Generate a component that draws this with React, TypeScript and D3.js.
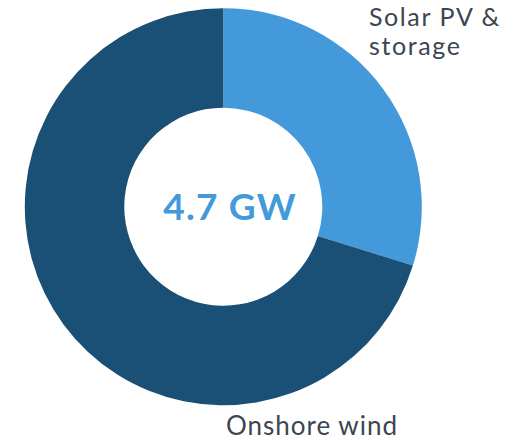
import React from "react";
import * as d3 from "d3";

const categories = ["Solar PV & storage", "Onshore wind"];
const capacityGW = [1.4, 3.3];
const totalLabel = "4.7 GW";

const colors = ["#4399D9", "#1A4F76"];

export default function App() {
  const width = 520;
  const height = 440;
  const cx = 223.3;
  const cy = 206.7;
  const outerR = 198.5;
  const innerR = 99;

  const data = categories.map((c, i) => ({ name: c, value: capacityGW[i] }));
  const pie = d3
    .pie<{ name: string; value: number }>()
    .value((d) => d.value)
    .sort(null)
    .startAngle(0)
    .endAngle(2 * Math.PI);
  const arc = d3
    .arc<d3.PieArcDatum<{ name: string; value: number }>>()
    .innerRadius(innerR)
    .outerRadius(outerR);
  const arcs = pie(data);

  const font = "Lato, 'Open Sans', sans-serif";
  const labelColor = "#3B4651";

  return (
    <svg
      width={width}
      height={height}
      style={{ position: "absolute", left: 0, top: 0 }}
    >
      <g transform={`translate(${cx},${cy})`}>
        {arcs.map((a, i) => (
          <path key={i} d={arc(a) || ""} fill={colors[i]} />
        ))}
        <text
          x={6.7}
          y={13}
          textAnchor="middle"
          fontFamily={font}
          fontWeight={700}
          fontSize={37}
          letterSpacing={1.2}
          fill="#4399D9"
        >
          {totalLabel}
        </text>
      </g>
      <text fontFamily={font} fontSize={25} letterSpacing={1.6} fill={labelColor}>
        <tspan x={369} y={26}>Solar PV &amp;</tspan>
        <tspan x={369} y={55}>storage</tspan>
      </text>
      <text
        x={226}
        y={435}
        fontFamily={font}
        fontSize={26}
        letterSpacing={1.0}
        fill={labelColor}
      >
        {categories[1]}
      </text>
    </svg>
  );
}
